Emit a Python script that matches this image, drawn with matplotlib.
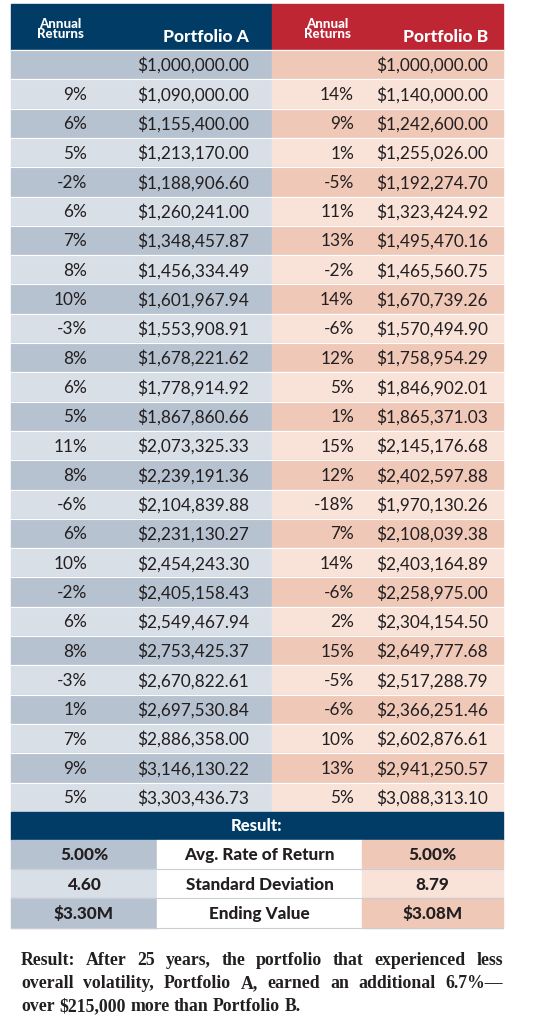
import matplotlib
matplotlib.use("Agg")
import matplotlib.pyplot as plt
from matplotlib.patches import Rectangle

ret_a = ["", "9%", "6%", "5%", "-2%", "6%", "7%", "8%", "10%", "-3%", "8%", "6%", "5%",
         "11%", "8%", "-6%", "6%", "10%", "-2%", "6%", "8%", "-3%", "1%", "7%", "9%", "5%"]
val_a = ["$1,000,000.00", "$1,090,000.00", "$1,155,400.00", "$1,213,170.00", "$1,188,906.60",
         "$1,260,241.00", "$1,348,457.87", "$1,456,334.49", "$1,601,967.94", "$1,553,908.91",
         "$1,678,221.62", "$1,778,914.92", "$1,867,860.66", "$2,073,325.33", "$2,239,191.36",
         "$2,104,839.88", "$2,231,130.27", "$2,454,243.30", "$2,405,158.43", "$2,549,467.94",
         "$2,753,425.37", "$2,670,822.61", "$2,697,530.84", "$2,886,358.00", "$3,146,130.22",
         "$3,303,436.73"]
ret_b = ["", "14%", "9%", "1%", "-5%", "11%", "13%", "-2%", "14%", "-6%", "12%", "5%", "1%",
         "15%", "12%", "-18%", "7%", "14%", "-6%", "2%", "15%", "-5%", "-6%", "10%", "13%", "5%"]
val_b = ["$1,000,000.00", "$1,140,000.00", "$1,242,600.00", "$1,255,026.00", "$1,192,274.70",
         "$1,323,424.92", "$1,495,470.16", "$1,465,560.75", "$1,670,739.26", "$1,570,494.90",
         "$1,758,954.29", "$1,846,902.01", "$1,865,371.03", "$2,145,176.68", "$2,402,597.88",
         "$1,970,130.26", "$2,108,039.38", "$2,403,164.89", "$2,258,975.00", "$2,304,154.50",
         "$2,649,777.68", "$2,517,288.79", "$2,366,251.46", "$2,602,876.61", "$2,941,250.57",
         "$3,088,313.10"]
summary_labels = ["Avg. Rate of Return", "Standard Deviation", "Ending Value"]
summary_a = ["5.00%", "4.60", "$3.30M"]
summary_b = ["5.00%", "8.79", "$3.08M"]
note = ("Result: After 25 years, the portfolio that experienced less overall volatility, "
        "Portfolio A, earned an additional 6.7%\u2014 over $215,000 more than Portfolio B.")

NAVY = "#003c66"
RED = "#be2634"
A_DARK, A_LIGHT = "#b7c2d0", "#d9dfe7"
B_DARK, B_LIGHT = "#f0c8b8", "#f9e3d9"
SANS = "Lato"

fig = plt.figure(figsize=(5.38, 10.24), dpi=100)
ax = fig.add_axes([0, 0, 1, 1])
ax.set_xlim(0, 538)
ax.set_ylim(1024, 0)
ax.axis("off")

L, M, R = 11, 272, 503
top, head_h = 4, 46
row_h = 29.3
y0 = top + head_h

# header
ax.add_patch(Rectangle((L, top), M - L, head_h, color=NAVY))
ax.add_patch(Rectangle((M, top), R - M, head_h, color=RED))
for xc in [60, 327]:
    ax.text(xc, 29, "Annual\nReturns", color="white", fontsize=9.5, fontweight="black",
            family=SANS, ha="center", va="center", linespacing=0.9)
ax.text(206, 37, "Portfolio A", color="white", fontsize=12.5, fontweight="black",
        family=SANS, ha="center", va="center")
ax.text(446, 37, "Portfolio B", color="white", fontsize=12.5, fontweight="black",
        family=SANS, ha="center", va="center")

# body rows
for i in range(len(val_a)):
    y = y0 + i * row_h
    ax.add_patch(Rectangle((L, y), M - L, row_h, color=A_DARK if i % 2 == 0 else A_LIGHT))
    ax.add_patch(Rectangle((M, y), R - M, row_h, color=B_DARK if i % 2 == 0 else B_LIGHT))
    ax.plot([L, R], [y, y], color="white", lw=0.8)
    cy = y + row_h / 2 + 1
    kw = dict(fontsize=12.4, family=SANS, color="#231f20", va="center", ha="right")
    ax.text(87, cy, ret_a[i], **kw)
    ax.text(249, cy, val_a[i], **kw)
    ax.text(354, cy, ret_b[i], **kw)
    ax.text(488, cy, val_b[i], **kw)

# result bar
yr = y0 + len(val_a) * row_h
ax.add_patch(Rectangle((L, yr), R - L, 28, color=NAVY))
ax.text((L + R) / 2, yr + 14, "Result:", color="white", fontsize=12, fontweight="black",
        family=SANS, ha="center", va="center")

c1, c2 = 157, 362
ys = yr + 28
for i in range(len(summary_labels)):
    y = ys + i * row_h
    ax.add_patch(Rectangle((L, y), c1 - L, row_h, color=A_DARK if i % 2 == 0 else A_LIGHT))
    ax.add_patch(Rectangle((c1, y), c2 - c1, row_h, color="white"))
    ax.add_patch(Rectangle((c2, y), R - c2, row_h, color=B_DARK if i % 2 == 0 else B_LIGHT))
    ax.plot([L, R], [y + row_h, y + row_h], color="#c8cdd6", lw=0.8)
    cy = y + row_h / 2 + 1
    kw = dict(fontsize=12.3, family=SANS, fontweight="black", color="#231f20",
              va="center", ha="center")
    ax.text((L + c1) / 2, cy, summary_a[i], **kw)
    ax.text((c1 + c2) / 2, cy, summary_labels[i], **kw)
    ax.text((c2 + R) / 2, cy, summary_b[i], **kw)

# justified note text
fig.canvas.draw()
renderer = fig.canvas.get_renderer()
tkw = dict(fontsize=12.8, family="Liberation Serif", fontweight="bold", color="#231f20",
           va="baseline", ha="left")
words = note.split(" ")
tl, tr = 21, 503

def width(w):
    t = ax.text(0, 0, w, **tkw)
    bb = t.get_window_extent(renderer)
    t.remove()
    return bb.width

space = width("a b") - width("ab")
lines, cur = [], []
for w in words:
    trial = cur + [w]
    tot = sum(width(x) for x in trial) + space * (len(trial) - 1)
    if tot > tr - tl and cur:
        lines.append(cur)
        cur = [w]
    else:
        cur = trial
lines.append(cur)

base = 965
for li, ln in enumerate(lines):
    y = base + li * 23
    ws = [width(x) for x in ln]
    if li < len(lines) - 1 and len(ln) > 1:
        gap = (tr - tl - sum(ws)) / (len(ln) - 1)
    else:
        gap = space
    x = tl
    for w, wd in zip(ln, ws):
        ax.text(x, y, w, **tkw)
        x += wd + gap

fig.savefig("out.png", dpi=100)
